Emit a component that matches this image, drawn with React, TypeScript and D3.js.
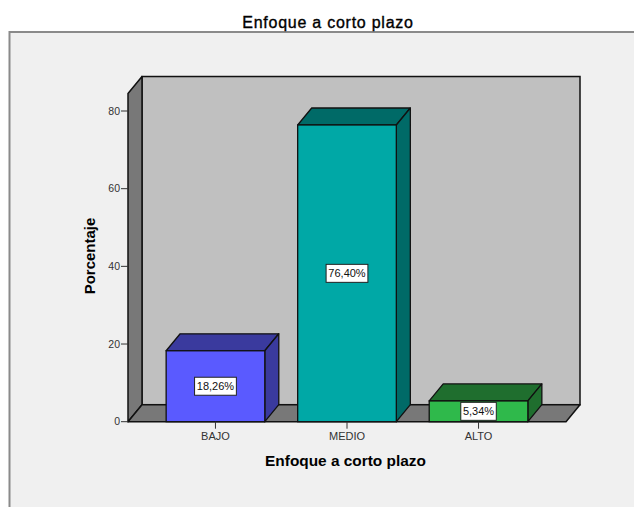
import React from "react";
import * as d3 from "d3";

// Category data
const categories = ["BAJO", "MEDIO", "ALTO"];
const percentages = [18.26, 76.4, 5.34];
const valueLabels = ["18,26%", "76,40%", "5,34%"];
const yTicks = [0, 20, 40, 60, 80];

const frontColors = ["#5a5aff", "#00a8a6", "#2fb94b"];
const shadeColors = ["#3a3a9e", "#006a67", "#1f6e2e"];

const W = 634;
const H = 507;

export default function App() {
  // 3D layout
  const depthX = 14;
  const depthY = -17;
  const x0 = 128;
  const x1 = 566;
  const yScale = d3.scaleLinear().domain([0, 80]).range([421.7, 111]);
  const wallMax = 84.5;
  const xScale = d3
    .scaleBand<string>()
    .domain(categories)
    .range([x0, x1])
    .paddingInner(0.25)
    .paddingOuter(0.29);

  const y0 = yScale(0);
  const yTop = yScale(wallMax);
  const pts = (p: [number, number][]) => p.map((q) => q.join(",")).join(" ");
  const stroke = "#111";

  return (
    <div style={{ position: "absolute", left: 0, top: 0 }}>
      <svg width={W} height={H} style={{ display: "block", background: "#fff" }}>
        {/* outer frame */}
        <rect x={9.5} y={32} width={640} height={500} fill="#f0f0f0" stroke="#8a8a8a" strokeWidth={2} />
        <text
          x={328}
          y={27.5}
          textAnchor="middle"
          fontFamily="Liberation Sans, Arial, sans-serif"
          fontSize={16}
          letterSpacing={0.75}
          fill="#000"
          stroke="#000"
          strokeWidth={0.35}
        >
          Enfoque a corto plazo
        </text>

        {/* walls */}
        <rect
          x={x0 + depthX}
          y={yTop + depthY}
          width={x1 - x0}
          height={y0 - yTop}
          fill="#c0c0c0"
          stroke={stroke}
          strokeWidth={1.5}
        />
        <polygon
          points={pts([
            [x0, y0],
            [x0, yTop],
            [x0 + depthX, yTop + depthY],
            [x0 + depthX, y0 + depthY],
          ])}
          fill="#787878"
          stroke={stroke}
          strokeWidth={1.5}
          strokeLinejoin="round"
        />
        <polygon
          points={pts([
            [x0, y0],
            [x0 + depthX, y0 + depthY],
            [x1 + depthX, y0 + depthY],
            [x1, y0],
          ])}
          fill="#787878"
          stroke={stroke}
          strokeWidth={1.5}
          strokeLinejoin="round"
        />

        {/* y axis ticks */}
        {yTicks.map((t) => (
          <g key={t}>
            <line x1={x0 - 7} x2={x0} y1={yScale(t)} y2={yScale(t)} stroke="#333" strokeWidth={1} />
            <text
              x={x0 - 8}
              y={yScale(t)}
              dy="0.35em"
              textAnchor="end"
              fontFamily="Liberation Sans, Arial, sans-serif"
              fontSize={10.5}
              fill="#333"
            >
              {t}
            </text>
          </g>
        ))}

        {/* bars */}
        {categories.map((c, i) => {
          const bx = xScale(c)!;
          const bw = xScale.bandwidth();
          const by = yScale(percentages[i]);
          const cx = bx + bw / 2;
          const cy = (by + y0) / 2;
          const label = valueLabels[i];
          const boxW = label.length * 6.3 + 4;
          return (
            <g key={c}>
              <polygon
                points={pts([
                  [bx, by],
                  [bx + depthX, by + depthY],
                  [bx + bw + depthX, by + depthY],
                  [bx + bw, by],
                ])}
                fill={shadeColors[i]}
                stroke={stroke}
                strokeWidth={1.3}
                strokeLinejoin="round"
              />
              <polygon
                points={pts([
                  [bx + bw, by],
                  [bx + bw + depthX, by + depthY],
                  [bx + bw + depthX, y0 + depthY],
                  [bx + bw, y0],
                ])}
                fill={shadeColors[i]}
                stroke={stroke}
                strokeWidth={1.3}
                strokeLinejoin="round"
              />
              <rect x={bx} y={by} width={bw} height={y0 - by} fill={frontColors[i]} stroke={stroke} strokeWidth={1.3} />
              <rect x={cx - boxW / 2} y={cy - 9} width={boxW} height={18} fill="#fff" stroke="#222" strokeWidth={1} />
              <text
                x={cx}
                y={cy}
                dy="0.36em"
                textAnchor="middle"
                fontFamily="Liberation Sans, Arial, sans-serif"
                fontSize={11}
                fill="#111"
              >
                {label}
              </text>
              {/* x tick */}
              <line x1={cx} x2={cx} y1={y0} y2={y0 + 7} stroke="#333" strokeWidth={1} />
              <text
                x={cx}
                y={y0 + 18}
                textAnchor="middle"
                fontFamily="Liberation Sans, Arial, sans-serif"
                fontSize={11}
                fill="#333"
              >
                {c}
              </text>
            </g>
          );
        })}

        {/* axis titles */}
        <text
          x={345.5}
          y={466}
          textAnchor="middle"
          fontFamily="Liberation Sans, Arial, sans-serif"
          fontSize={15.4}
          fontWeight="bold"
          fill="#000"
        >
          Enfoque a corto plazo
        </text>
        <text
          transform={`translate(95,256) rotate(-90)`}
          textAnchor="middle"
          fontFamily="Liberation Sans, Arial, sans-serif"
          fontSize={15}
          fontWeight="bold"
          fill="#000"
        >
          Porcentaje
        </text>
      </svg>
    </div>
  );
}
